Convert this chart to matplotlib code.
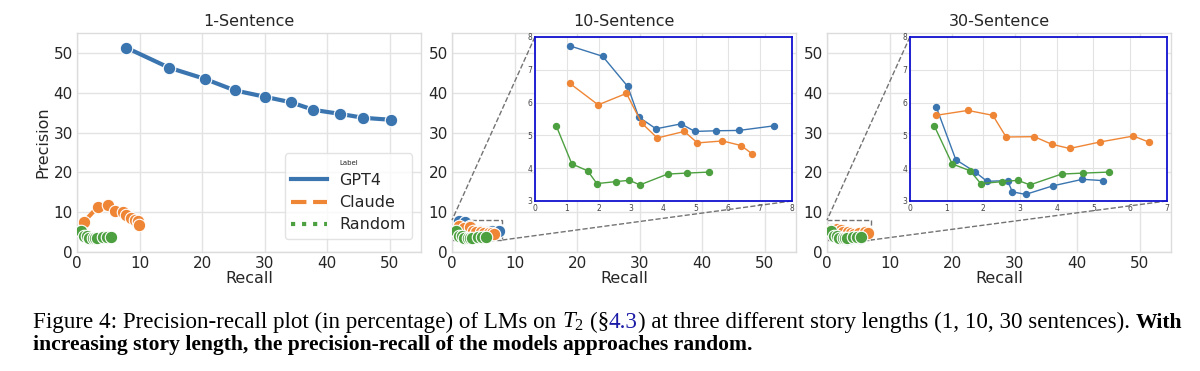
import matplotlib
matplotlib.use("Agg")
import matplotlib.pyplot as plt
from matplotlib.lines import Line2D
from mpl_toolkits.axes_grid1.inset_locator import mark_inset

# ---------------- data ----------------
labels = ["GPT4", "Claude", "Random"]
colors = {"GPT4": "#3a75b0", "Claude": "#ef8636", "Random": "#4da040"}
titles = ["1-Sentence", "10-Sentence", "30-Sentence"]

random_recall = [0.66, 1.15, 1.64, 1.93, 2.52, 2.94, 3.27, 4.13, 4.72, 5.41]
random_prec = [5.30, 4.13, 3.92, 3.53, 3.59, 3.63, 3.49, 3.82, 3.85, 3.88]

s1_gpt4_recall = [7.9, 14.7, 20.4, 25.2, 30.0, 34.2, 37.8, 42.0, 45.8, 50.2]
s1_gpt4_prec = [51.3, 46.3, 43.5, 40.6, 39.0, 37.6, 35.7, 34.7, 33.7, 33.2]
s1_claude_recall = [1.07, 3.36, 4.96, 6.0, 7.4, 7.9, 8.7, 9.2, 9.8, 9.95]
s1_claude_prec = [7.5, 11.4, 11.7, 10.4, 10.0, 9.2, 8.5, 8.1, 7.7, 6.9]

s10_gpt4_recall = [1.08, 2.11, 2.89, 3.23, 3.77, 4.55, 4.98, 5.64, 6.35, 7.44]
s10_gpt4_prec = [7.73, 7.41, 6.49, 5.56, 5.20, 5.35, 5.12, 5.14, 5.15, 5.29]
s10_claude_recall = [1.08, 1.97, 2.85, 3.32, 3.81, 4.65, 5.06, 5.84, 6.42, 6.77]
s10_claude_prec = [6.59, 5.93, 6.28, 5.38, 4.92, 5.12, 4.77, 4.83, 4.69, 4.43]

s30_gpt4_recall = [0.72, 1.25, 1.77, 2.10, 2.66, 2.79, 3.15, 3.89, 4.70, 5.27]
s30_gpt4_prec = [5.86, 4.26, 3.89, 3.60, 3.62, 3.28, 3.20, 3.46, 3.66, 3.62]
s30_claude_recall = [0.71, 1.58, 2.26, 2.62, 3.39, 3.86, 4.35, 5.19, 6.09, 6.52]
s30_claude_prec = [5.61, 5.76, 5.61, 4.95, 4.96, 4.73, 4.60, 4.80, 4.98, 4.79]

main_ticks = [0, 10, 20, 30, 40, 50]
inset_xmax = [None, 8, 7]
inset_y = (3, 8)

caption_1 = [("Figure 4: Precision-recall plot (in percentage) of LMs on", {}),
             ("$T_2$", {}),
             ("(§", {}),
             ("4.3", {"color": "#1a1aa6", "nospace": True}),
             (") at three different story lengths (1, 10, 30 sentences).", {"nospace": True}),
             ("With", {"weight": "bold"})]
caption_2 = "increasing story length, the precision-recall of the models approaches random."

# ---------------- style ----------------
plt.rcParams["font.family"] = ["DejaVu Sans"]
plt.rcParams["mathtext.fontset"] = "custom"
plt.rcParams["mathtext.rm"] = "Liberation Serif"
plt.rcParams["mathtext.it"] = "Liberation Serif:italic"

W, H = 1200, 371
fig = plt.figure(figsize=(W / 100, H / 100), dpi=100)

series = [
    {"GPT4": (s1_gpt4_recall, s1_gpt4_prec), "Claude": (s1_claude_recall, s1_claude_prec),
     "Random": (random_recall, random_prec)},
    {"GPT4": (s10_gpt4_recall, s10_gpt4_prec), "Claude": (s10_claude_recall, s10_claude_prec),
     "Random": (random_recall, random_prec)},
    {"GPT4": (s30_gpt4_recall, s30_gpt4_prec), "Claude": (s30_claude_recall, s30_claude_prec),
     "Random": (random_recall, random_prec)},
]

lefts = [77, 452, 827]
ax_w, ax_top, ax_bot = 344, 33, 252
grid_c = "#e3e3e3"
spine_c = "#dcdcdc"
text_c = "#262626"

for i in range(3):
    ax = fig.add_axes([lefts[i] / W, 1 - ax_bot / H, ax_w / W, (ax_bot - ax_top) / H])
    for lab in labels:
        x, y = series[i][lab]
        ax.plot(x, y, "-o", color=colors[lab], lw=3, ms=9, mec="white", mew=0.8, zorder=3)
    ax.set_xlim(0, 55)
    ax.set_ylim(0, 55)
    ax.set_xticks(main_ticks)
    ax.set_yticks(main_ticks)
    ax.grid(True, color=grid_c, lw=1)
    ax.set_axisbelow(True)
    for s in ax.spines.values():
        s.set_color(spine_c)
        s.set_linewidth(1)
    ax.tick_params(length=0, labelsize=11, colors=text_c, pad=3)
    ax.set_xlabel("Recall", fontsize=11.5, color=text_c, labelpad=0)
    ax.set_title(titles[i], fontsize=11.5, color=text_c, pad=5)
    if i == 0:
        ax.set_ylabel("Precision", fontsize=11.5, color=text_c, labelpad=2)
        handles = [Line2D([], [], color=colors["GPT4"], lw=3, ls="-"),
                   Line2D([], [], color=colors["Claude"], lw=3, ls="--"),
                   Line2D([], [], color=colors["Random"], lw=3, ls=":")]
        leg = ax.legend(handles, labels, title="Label", loc="lower right", fontsize=11.5,
                        title_fontsize=5, frameon=True, fancybox=True, labelspacing=0.45,
                        handlelength=2.2, borderaxespad=0.55, bbox_to_anchor=(1, 0.02))
        leg.get_frame().set_edgecolor("#dddddd")
        for t in leg.get_texts():
            t.set_color(text_c)
        leg.get_title().set_color(text_c)
    else:
        axins = ax.inset_axes([0.241, 0.233, 0.747, 0.749])
        for lab in labels:
            x, y = series[i][lab]
            axins.plot(x, y, "-o", color=colors[lab], lw=1, ms=4.3, zorder=3)
        axins.set_xlim(0, inset_xmax[i])
        axins.set_ylim(*inset_y)
        axins.set_xticks(list(range(0, inset_xmax[i] + 1)))
        axins.set_yticks(list(range(inset_y[0], inset_y[1] + 1)))
        axins.grid(True, color=grid_c, lw=0.8)
        axins.set_axisbelow(True)
        axins.tick_params(length=0, labelsize=5.5, colors="#444444", pad=2)
        for s in axins.spines.values():
            s.set_color("#1010d0")
            s.set_linewidth(1.3)
        mark_inset(ax, axins, loc1=2, loc2=4, fc="none", ec="0.45", ls="--", lw=1)

# ---------------- caption ----------------
renderer = fig.canvas.get_renderer()
serif = "Liberation Serif"
bold_scale = 0.94


def measure(txt, fs, weight="normal"):
    t = fig.text(0, 0, txt, fontsize=fs, family=serif, weight=weight)
    w = t.get_window_extent(renderer).width
    t.remove()
    return w


def piece_fs(fs, weight):
    return fs * bold_scale if weight == "bold" else fs


def line_width(fs):
    sp = 0.25 * fs * 100 / 72
    total = 0
    for k, (txt, kw) in enumerate(caption_1):
        wgt = kw.get("weight", "normal")
        if k > 0 and not kw.get("nospace"):
            total += sp
        total += measure(txt, piece_fs(fs, wgt), wgt)
    return total


x_start, x_end = 33, 1182
fs = 10 * (x_end - x_start) / line_width(10)

sp = 0.25 * fs * 100 / 72
x = x_start
base1 = 328
for k, (txt, kw) in enumerate(caption_1):
    wgt = kw.get("weight", "normal")
    if k > 0 and not kw.get("nospace"):
        x += sp
    t = fig.text(x / W, 1 - base1 / H, txt, fontsize=piece_fs(fs, wgt), family=serif,
                 weight=wgt, color=kw.get("color", "black"),
                 va="baseline", ha="left")
    x += t.get_window_extent(renderer).width

fig.text(x_start / W, 1 - 350 / H, caption_2, fontsize=fs * bold_scale, family=serif,
         weight="bold", va="baseline", ha="left")

fig.savefig("out.png", dpi=100)
